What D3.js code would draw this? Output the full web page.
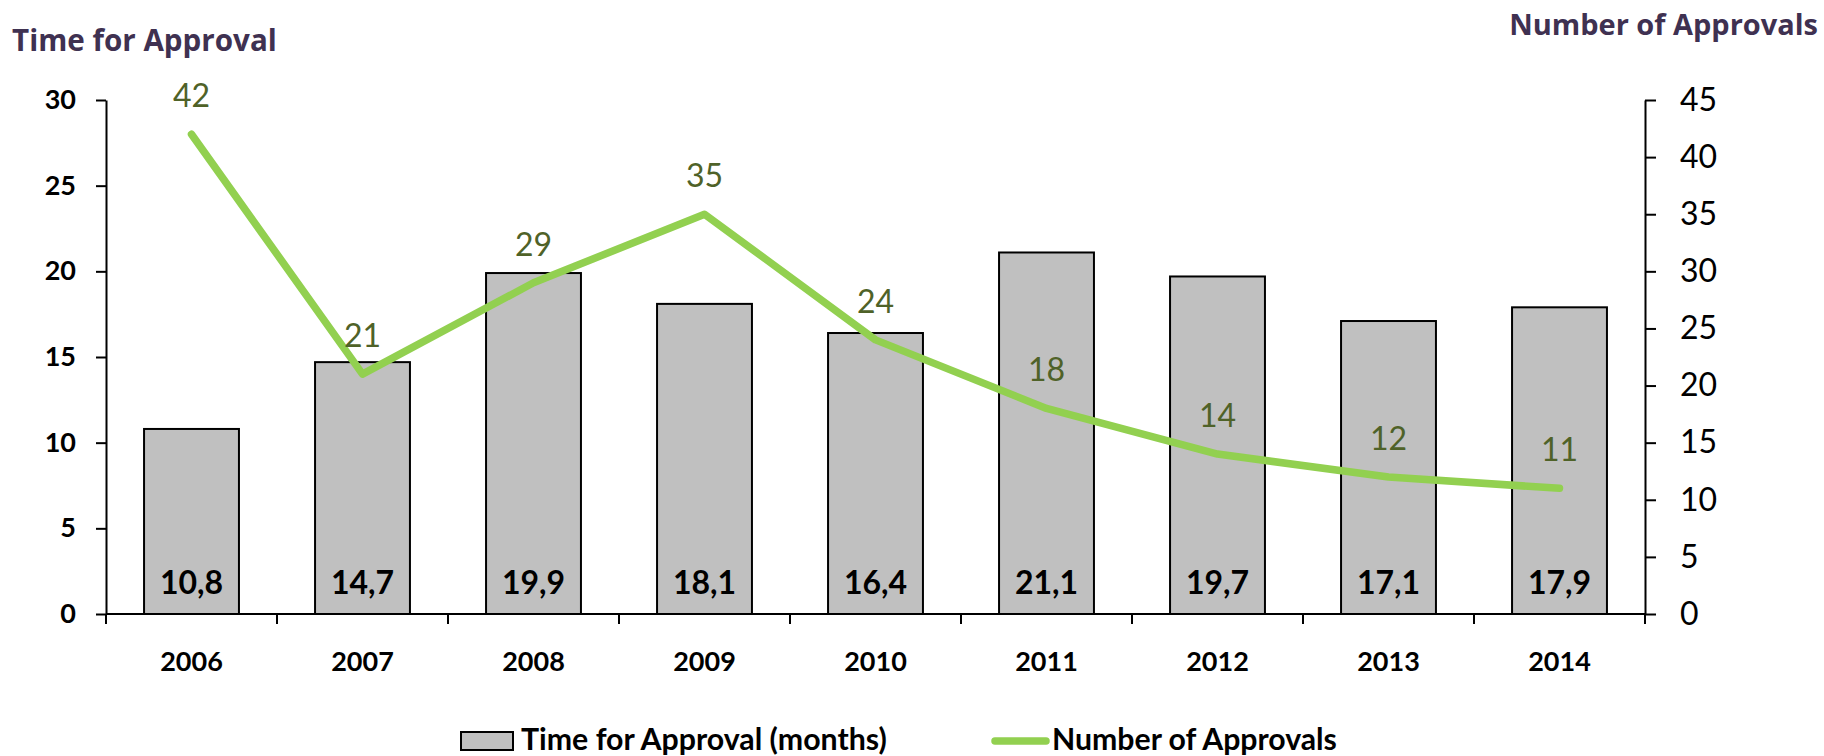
<!DOCTYPE html>
<html><head><meta charset="utf-8">
<script src="https://cdn.jsdelivr.net/npm/d3@7"></script>
<style>body{margin:0;background:#fff}svg{display:block}</style>
</head><body>
<svg id="c" width="1824" height="756"></svg>
<script>
const categories = ["2006","2007","2008","2009","2010","2011","2012","2013","2014"];
const timeValues = [10.8,14.7,19.9,18.1,16.4,21.1,19.7,17.1,17.9];
const timeLabels = ["10,8","14,7","19,9","18,1","16,4","21,1","19,7","17,1","17,9"];
const approvals = [42,21,29,35,24,18,14,12,11];
const leftTicks = [0,5,10,15,20,25,30];
const rightTicks = [0,5,10,15,20,25,30,35,40,45];

const svg = d3.select("#c");
const x0 = 106, x1 = 1645, yTop = 100, yBot = 614;
const x = d3.scaleBand().domain(categories).range([x0,x1]).paddingInner(0.445).paddingOuter(0.2225);
const xb = d3.scaleBand().domain(categories).range([x0,x1]);
const yL = d3.scaleLinear().domain([0,30]).range([yBot,yTop]);
const yR = d3.scaleLinear().domain([0,45]).range([yBot,yTop]);
const calibri = "Lato, 'Open Sans', sans-serif";
const titleFont = "'Open Sans', 'DejaVu Sans', sans-serif";

// Bars
svg.append("g").selectAll("rect").data(timeValues).join("rect")
  .attr("x",(d,i)=>x(categories[i])).attr("width",x.bandwidth())
  .attr("y",d=>yL(d)).attr("height",d=>yBot-yL(d))
  .attr("fill","#c0c0c0").attr("stroke","#000").attr("stroke-width",2);

// Bar labels
svg.append("g").selectAll("text").data(timeLabels).join("text")
  .attr("x",(d,i)=>x(categories[i])+x.bandwidth()/2).attr("y",594)
  .attr("text-anchor","middle").attr("font-family",calibri).attr("font-weight","bold")
  .attr("font-size",32).attr("fill","#000").text(d=>d);

// Left axis
const gL = svg.append("g").attr("transform",`translate(${x0},0)`)
  .call(d3.axisLeft(yL).tickValues(leftTicks).tickSize(10).tickPadding(20).tickSizeOuter(0));
gL.select(".domain").attr("stroke","#000").attr("stroke-width",2);
gL.selectAll(".tick line").attr("stroke","#000").attr("stroke-width",2);
gL.selectAll(".tick text").attr("font-family",calibri).attr("font-weight","bold").attr("font-size",27).attr("fill","#000");

// Right axis
const gR = svg.append("g").attr("transform",`translate(${x1},0)`)
  .call(d3.axisRight(yR).tickValues(rightTicks).tickSize(11).tickPadding(24).tickSizeOuter(0));
gR.select(".domain").attr("stroke","#000").attr("stroke-width",2);
gR.selectAll(".tick line").attr("stroke","#000").attr("stroke-width",2);
gR.selectAll(".tick text").attr("font-family",calibri).attr("font-size",32).attr("fill","#000");

// Bottom axis
const gB = svg.append("g").attr("transform",`translate(0,${yBot})`)
  .call(d3.axisBottom(xb).tickSize(0).tickPadding(38));
gB.select(".domain").remove();
gB.selectAll(".tick text").attr("font-family",calibri).attr("font-weight","bold").attr("font-size",27).attr("fill","#000");
svg.append("line").attr("x1",x0).attr("x2",x1).attr("y1",yBot).attr("y2",yBot).attr("stroke","#000").attr("stroke-width",2);
svg.append("g").selectAll("line").data(categories.concat(["end"])).join("line")
  .attr("x1",(d,i)=>x0+i*xb.step()).attr("x2",(d,i)=>x0+i*xb.step())
  .attr("y1",yBot).attr("y2",yBot+10).attr("stroke","#000").attr("stroke-width",2);

// Line
const cx = i => xb(categories[i]) + xb.bandwidth()/2;
svg.append("path").datum(approvals)
  .attr("d",d3.line().x((d,i)=>cx(i)).y(d=>yR(d)))
  .attr("fill","none").attr("stroke","#92d050").attr("stroke-width",7.5)
  .attr("stroke-linecap","round").attr("stroke-linejoin","round");
svg.append("g").selectAll("text").data(approvals).join("text")
  .attr("x",(d,i)=>cx(i)).attr("y",d=>yR(d)-27)
  .attr("text-anchor","middle").attr("font-family",calibri).attr("font-size",32)
  .attr("fill","#4f6228").text(d=>d);

// Text sizes fitted to the reference widths
function fit(t, target, maxSize){
  const s = +t.attr("font-size");
  const w = t.node().getComputedTextLength();
  t.attr("font-size", Math.min(maxSize, s*target/w));
}
const t1 = svg.append("text").attr("x",12).attr("y",51).attr("font-family",titleFont).attr("font-weight","bold")
  .attr("font-size",27).attr("fill","#3f3151").text("Time for Approval");
fit(t1,265,31);
const t2 = svg.append("text").attr("x",1818).attr("y",35).attr("text-anchor","end").attr("font-family",titleFont).attr("font-weight","bold")
  .attr("font-size",27).attr("fill","#3f3151").text("Number of Approvals");
fit(t2,309,31);

// Legend
const lg = svg.append("g");
lg.append("rect").attr("x",461).attr("y",732).attr("width",52).attr("height",18)
  .attr("fill","#c0c0c0").attr("stroke","#000").attr("stroke-width",2);
const l1 = lg.append("text").attr("x",521).attr("y",750).attr("font-family",calibri).attr("font-weight","bold")
  .attr("font-size",26).attr("fill","#000").text("Time for Approval (months)");
fit(l1,366,31);
lg.append("line").attr("x1",995).attr("x2",1046).attr("y1",741).attr("y2",741)
  .attr("stroke","#92d050").attr("stroke-width",7.5).attr("stroke-linecap","round");
const l2 = lg.append("text").attr("x",1052).attr("y",750).attr("font-family",calibri).attr("font-weight","bold")
  .attr("font-size",26).attr("fill","#000").text("Number of Approvals");
fit(l2,285,31);
</script>
</body></html>
